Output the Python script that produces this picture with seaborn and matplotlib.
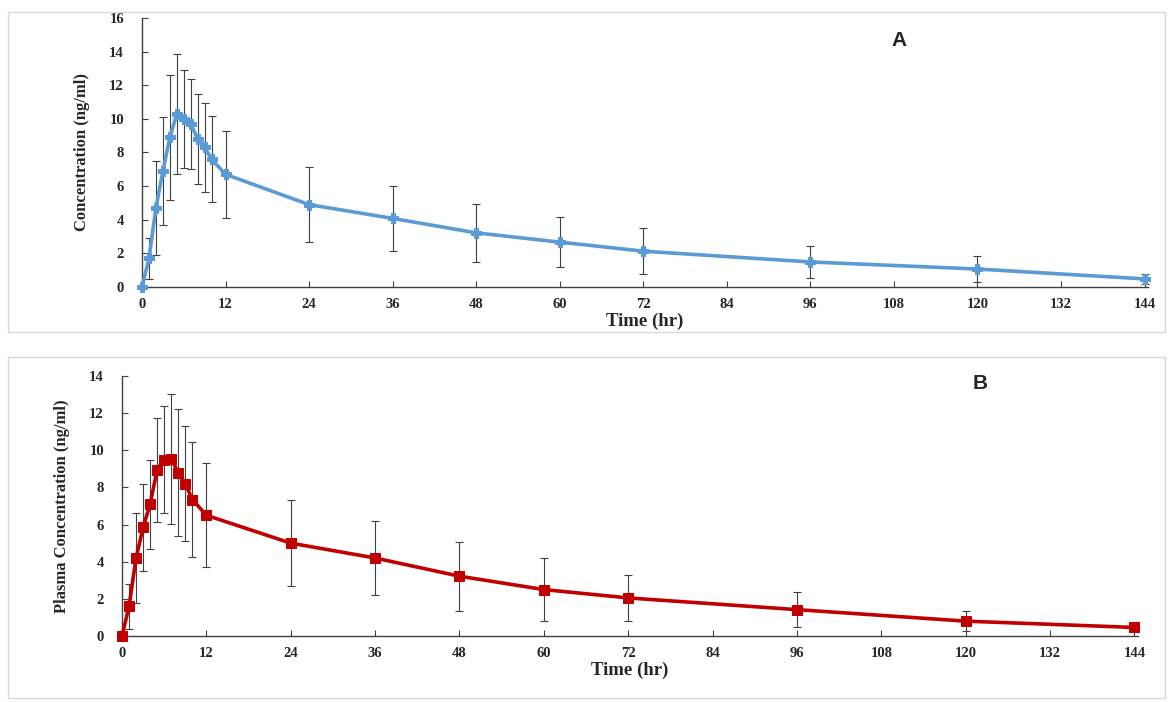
import numpy as np
import pandas as pd
import matplotlib
matplotlib.use("Agg")
import matplotlib.pyplot as plt
import seaborn as sns
from matplotlib.patches import Rectangle

# ── data ────────────────────────────────────────────────────
time_hr = [0, 1, 2, 3, 4, 5, 6, 7, 8, 9, 10, 12, 24, 36, 48, 60, 72, 96, 120, 144]

conc_a = [0, 1.7, 4.7, 6.9, 8.9, 10.3, 10.0, 9.7, 8.8, 8.3, 7.6, 6.7,
          4.9, 4.08, 3.22, 2.67, 2.13, 1.49, 1.07, 0.48]
sd_a = [0, 1.2, 2.8, 3.2, 3.7, 3.55, 2.9, 2.7, 2.7, 2.65, 2.55, 2.6,
        2.25, 1.95, 1.72, 1.47, 1.37, 0.95, 0.8, 0.3]

conc_b = [0, 1.6, 4.2, 5.85, 7.1, 8.95, 9.5, 9.55, 8.8, 8.2, 7.35, 6.5,
          5.0, 4.2, 3.22, 2.5, 2.05, 1.42, 0.8, 0.46]
sd_b = [0, 1.2, 2.4, 2.35, 2.4, 2.8, 2.9, 3.5, 3.4, 3.1, 3.1, 2.8,
        2.3, 2.0, 1.85, 1.7, 1.25, 0.95, 0.55, 0.15]

x_ticks = list(range(0, 145, 12))

df_a = pd.DataFrame({"Time": time_hr, "Conc": conc_a, "SD": sd_a})
df_b = pd.DataFrame({"Time": time_hr, "Conc": conc_b, "SD": sd_b})

sns.set_style("ticks")
plt.rcParams["font.family"] = ["Liberation Serif", "DejaVu Serif"]

fig = plt.figure(figsize=(11.71, 7.02), dpi=100)
W, H = 1171, 702

# light chart-area frames (Excel style)
for (x0, y0, x1, y1) in [(8, 12, 1165, 332), (8, 357, 1165, 698)]:
    fig.patches.append(Rectangle((x0 / W, 1 - y1 / H), (x1 - x0) / W, (y1 - y0) / H,
                                 transform=fig.transFigure, fill=False,
                                 edgecolor="#d9d9d9", linewidth=1.0))

ax_a = fig.add_axes([142 / W, 1 - 287 / H, 1006 / W, 269 / H])
ax_b = fig.add_axes([122 / W, 1 - 636 / H, 1016 / W, 260 / H])

panels = [
    (ax_a, df_a, "#5b9bd5", "P", 7, 16, "Concentration (ng/ml)", "A", (0.753, 0.918)),
    (ax_b, df_b, "#c00000", "s", 7.5, 14, "Plasma Concentration (ng/ml)", "B", (0.845, 0.973)),
]

for ax, d, col, mk, ms, ymax, ylab, tag, tagpos in panels:
    ax.errorbar(d["Time"], d["Conc"], yerr=d["SD"], fmt="none",
                ecolor="#404040", elinewidth=0.8, capsize=3, capthick=0.8,
                zorder=2, clip_on=False)
    sns.lineplot(data=d, x="Time", y="Conc", ax=ax, color=col, linewidth=2.6,
                 marker=mk, markersize=ms, markeredgecolor=col,
                 markerfacecolor=col, zorder=3, clip_on=False)
    ax.set_xlim(0, 144.5)
    ax.set_ylim(0, ymax)
    ax.set_xticks(x_ticks)
    ax.set_yticks(range(0, ymax + 1, 2))
    ax.tick_params(direction="in", length=4, width=0.8, colors="#404040",
                   labelcolor="#262626", labelsize=10.5)
    ax.tick_params(axis="x", pad=8)
    ax.tick_params(axis="y", pad=13)
    for lbl in ax.get_xticklabels() + ax.get_yticklabels():
        lbl.set_fontweight("bold")
    for s in ["top", "right"]:
        ax.spines[s].set_visible(False)
    for s in ["left", "bottom"]:
        ax.spines[s].set_color("#404040")
        ax.spines[s].set_linewidth(1.0)
    ax.set_xlabel("Time (hr)", fontsize=13.5, fontweight="bold", labelpad=1)
    ax.set_ylabel(ylab, fontsize=12, fontweight="bold", labelpad=14)
    ax.text(tagpos[0], tagpos[1], tag, transform=ax.transAxes, fontsize=15,
            fontweight="bold", family=["Liberation Sans", "DejaVu Sans"],
            ha="center", va="center")
    ax.set_facecolor("white")

fig.savefig("out.png", dpi=100, facecolor="white")
